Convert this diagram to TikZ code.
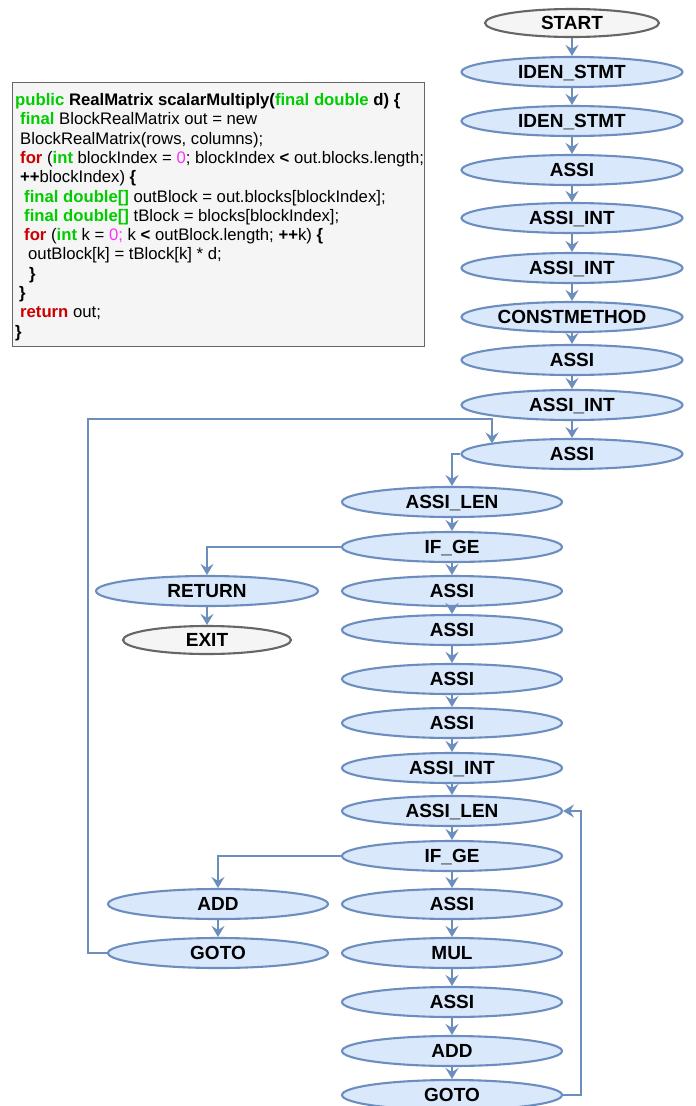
\documentclass[tikz,border=0pt]{standalone}
\usepackage{fontspec}
\setmainfont{Liberation Sans}
\usetikzlibrary{arrows.meta,shapes.geometric}
\definecolor{bfill}{HTML}{DAE8FC}
\definecolor{bline}{HTML}{6C8EBF}
\definecolor{gfill}{HTML}{F5F5F5}
\definecolor{gline}{HTML}{666666}
\definecolor{kgreen}{HTML}{00CC00}
\definecolor{kred}{HTML}{CC0000}
\definecolor{kmag}{HTML}{FF33FF}
\newcommand\kwg[1]{\textcolor{kgreen}{\textbf{#1}}}
\newcommand\kwr[1]{\textcolor{kred}{\textbf{#1}}}
\newcommand\kwm[1]{\textcolor{kmag}{#1}}
\begin{document}
\begin{tikzpicture}[x=1pt,y=-1pt,
  base/.style={ellipse,line width=2.1pt,inner sep=0pt,minimum height=30pt,
    font=\fontsize{19}{21}\selectfont\bfseries,text height=13.6pt,text depth=0pt},
  bnode/.style={base,draw=bline,fill=bfill,minimum width=#1},
  bnode/.default=221,
  gnode/.style={base,draw=gline,fill=gfill,minimum width=#1,minimum height=28pt},
  conn/.style={draw=bline,line width=2.2pt,-{Stealth[length=11pt,width=13pt,inset=4pt]}},
  cline/.style={anchor=base west,inner sep=0pt,font=\fontsize{16.7}{19}\selectfont}]
\useasboundingbox (0,0) rectangle (696,1106);
\fill[white] (0,0) rectangle (696,1106);

% code box
\node[draw=gline,fill=gfill,line width=0.9pt,anchor=north west,minimum width=412pt,minimum height=264pt,inner sep=0pt] (code) at (12,82) {};
\node[cline] (c1) at (15,105.5) {\kwg{public} \textbf{RealMatrix scalarMultiply(}\kwg{final double} \textbf{d) \{}};
\node[cline] (c2) at (20,124.8) {\kwg{final} BlockRealMatrix out = new};
\node[cline] (c3) at (20,144.1) {BlockRealMatrix(rows, columns);};
\node[cline] (c4) at (20,163.4) {\kwr{for} (\kwg{int} blockIndex = \kwm{0}; blockIndex \textbf{<} out.blocks.length;};
\node[cline] (c5) at (20,182.7) {\textbf{++}blockIndex) \textbf{\{}};
\node[cline] (c6) at (24,202) {\kwg{final double[]} outBlock = out.blocks[blockIndex];};
\node[cline] (c7) at (24,221.3) {\kwg{final double[]} tBlock = blocks[blockIndex];};
\node[cline] (c8) at (24,240.6) {\kwr{for} (\kwg{int} k = \kwm{0;} k \textbf{<} outBlock.length; \textbf{++}k) \textbf{\{}};
\node[cline] (c9) at (28,259.9) {outBlock[k] = tBlock[k] * d;};
\node[cline] (c10) at (29,279.2) {\textbf{\}}};
\node[cline] (c11) at (19,298.5) {\textbf{\}}};
\node[cline] (c12) at (20,317.8) {\kwr{return} out;};
\node[cline] (c13) at (15,337.1) {\textbf{\}}};

% right column
\node[gnode=174] (start) at (572,23) {START};
\node[bnode] (r1) at (572,72) {IDEN\_STMT};
\node[bnode] (r2) at (572,121) {IDEN\_STMT};
\node[bnode] (r3) at (572,170) {ASSI};
\node[bnode] (r4) at (572,218) {ASSI\_INT};
\node[bnode] (r5) at (572,268) {ASSI\_INT};
\node[bnode] (r6) at (572,317) {CONSTMETHOD};
\node[bnode] (r7) at (572,360) {ASSI};
\node[bnode] (r8) at (572,405) {ASSI\_INT};
\node[bnode] (r9) at (572,454) {ASSI};

% middle column
\node[bnode=220] (m1) at (452,502) {ASSI\_LEN};
\node[bnode=220] (m2) at (452,547) {IF\_GE};
\node[bnode=220] (m3) at (452,591) {ASSI};
\node[bnode=220] (m4) at (452,630) {ASSI};
\node[bnode=220] (m5) at (452,679) {ASSI};
\node[bnode=220] (m6) at (452,723) {ASSI};
\node[bnode=220] (m7) at (452,768) {ASSI\_INT};
\node[bnode=220] (m8) at (452,811) {ASSI\_LEN};
\node[bnode=220] (m9) at (452,856) {IF\_GE};
\node[bnode=220] (m10) at (452,904) {ASSI};
\node[bnode=220] (m11) at (452,953) {MUL};
\node[bnode=220] (m12) at (452,1002) {ASSI};
\node[bnode=220] (m13) at (452,1051) {ADD};
\node[bnode=220] (m14) at (452,1095) {GOTO};

% left nodes
\node[bnode=222] (ret) at (207,591) {RETURN};
\node[gnode=168] (exit) at (207,640) {EXIT};
\node[bnode=220] (addL) at (218,904) {ADD};
\node[bnode=220] (gotoL) at (218,953) {GOTO};

% straight connectors
\draw[conn] (start) -- (r1);
\draw[conn] (r1) -- (r2);
\draw[conn] (r2) -- (r3);
\draw[conn] (r3) -- (r4);
\draw[conn] (r4) -- (r5);
\draw[conn] (r5) -- (r6);
\draw[conn] (r6) -- (r7);
\draw[conn] (r7) -- (r8);
\draw[conn] (r8) -- (r9);
\draw[conn] (m1) -- (m2);
\draw[conn] (m2) -- (m3);
\draw[conn] (m3) -- (m4);
\draw[conn] (m4) -- (m5);
\draw[conn] (m5) -- (m6);
\draw[conn] (m6) -- (m7);
\draw[conn] (m7) -- (m8);
\draw[conn] (m8) -- (m9);
\draw[conn] (m9) -- (m10);
\draw[conn] (m10) -- (m11);
\draw[conn] (m11) -- (m12);
\draw[conn] (m12) -- (m13);
\draw[conn] (m13) -- (m14);
\draw[conn] (ret) -- (exit);
\draw[conn] (addL) -- (gotoL);

% elbow connectors
\draw[conn] (r9.west) -| (m1.north);
\draw[conn] (m2.west) -| (ret.north);
\draw[conn] (m9.west) -| (addL.north);
\coordinate (outerL) at (88,419);
\coordinate (loopin) at (492,443.5);
\draw[conn] (gotoL.west) -| (outerL) -| (loopin);
\coordinate (outerR) at (581,1095);
\draw[conn] (m14.east) -- (outerR) |- (m8.east);
\end{tikzpicture}
\end{document}
